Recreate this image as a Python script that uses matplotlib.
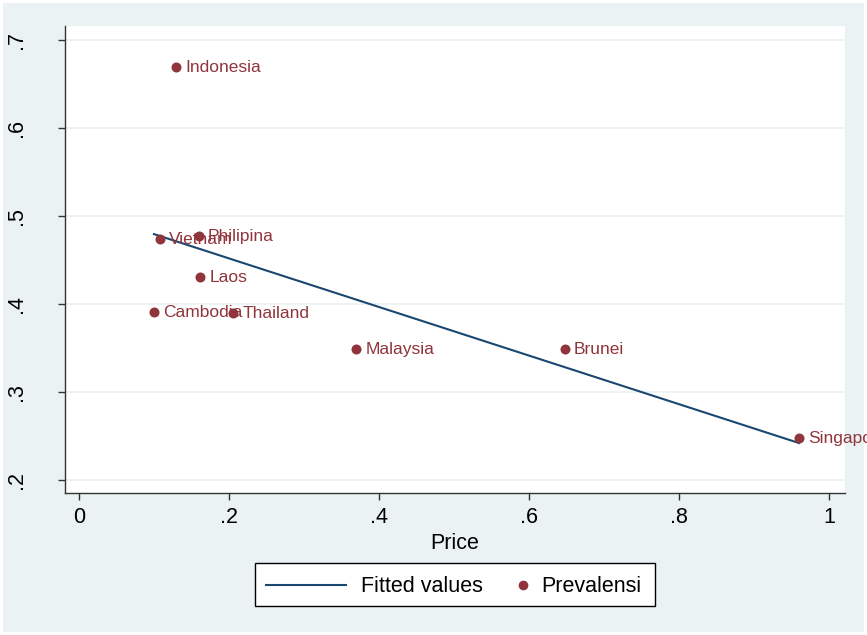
import numpy as np
import matplotlib
matplotlib.use("Agg")
import matplotlib.pyplot as plt
from matplotlib.patches import Rectangle
from matplotlib.lines import Line2D

plt.rcParams['font.family'] = ['Liberation Sans', 'DejaVu Sans']

countries = ["Indonesia", "Vietnam", "Philipina", "Laos", "Cambodia",
             "Thailand", "Malaysia", "Brunei", "Singapore"]
price = [0.130, 0.108, 0.160, 0.162, 0.100, 0.206, 0.370, 0.648, 0.960]
prevalensi = [0.669, 0.474, 0.477, 0.431, 0.391, 0.390, 0.349, 0.349, 0.248]
xticks = [0, 0.2, 0.4, 0.6, 0.8, 1.0]
xticklabels = ["0", ".2", ".4", ".6", ".8", "1"]
yticks = [0.2, 0.3, 0.4, 0.5, 0.6, 0.7]
yticklabels = [".2", ".3", ".4", ".5", ".6", ".7"]
legend_labels = ["Fitted values", "Prevalensi"]

BG = "#EAF2F3"
NAVY = "#1A476F"
MAROON = "#90353B"

W, H = 867, 635
fig = plt.figure(figsize=(W / 100, H / 100), dpi=100, facecolor="white")
fig.patches.append(Rectangle((3 / W, 3 / H), 1 - 6 / W, 1 - 6 / H,
                             transform=fig.transFigure, facecolor=BG,
                             edgecolor="none", zorder=-10))

ax = fig.add_axes([65 / W, 1 - 493 / H, (845 - 65) / W, (493 - 26) / H])
ax.set_facecolor("white")

x = np.array(price)
y = np.array(prevalensi)
b, a = np.polyfit(x, y, 1)
xs = np.array([x.min(), x.max()])
ax.plot(xs, a + b * xs, color=NAVY, lw=1.5, zorder=3)
ax.scatter(x, y, s=52, color=MAROON, zorder=4, linewidths=0)
for name, xi, yi in zip(countries, price, prevalensi):
    ax.annotate(name, (xi, yi), xytext=(6.5, -0.5), textcoords="offset points",
                va="center", ha="left", fontsize=12.5, color=MAROON,
                annotation_clip=False, zorder=5)

ax.set_xlim(-0.0186, 1.0213)
ax.set_ylim(0.1852, 0.7159)
ax.set_xticks(xticks)
ax.set_xticklabels(xticklabels)
ax.set_yticks(yticks)
ax.set_yticklabels(yticklabels, rotation=90, va="center")
ax.grid(axis="y", color=BG, lw=1.2)
ax.set_axisbelow(True)
for s in ["top", "right"]:
    ax.spines[s].set_visible(False)
for s in ["left", "bottom"]:
    ax.spines[s].set_color("#333333")
    ax.spines[s].set_linewidth(1.0)
ax.tick_params(axis="x", length=5, width=1, color="#333333", labelsize=15.5, pad=5)
ax.tick_params(axis="y", length=5, width=1, color="#333333", labelsize=15.5, pad=22)
ax.set_xlabel("Price", fontsize=15.5, labelpad=4)

# legend drawn in figure pixel coordinates (Stata-style key layout)
def fx(px):
    return px / W

def fy(py):
    return 1 - py / H

fig.patches.append(Rectangle((fx(255), fy(606)), fx(655) - fx(255), fy(563) - fy(606),
                             transform=fig.transFigure, facecolor="white",
                             edgecolor="black", lw=1.0, zorder=5))
fig.lines.append(Line2D([fx(266), fx(346)], [fy(585), fy(585)],
                        transform=fig.transFigure, color=NAVY, lw=1.5, zorder=6))
fig.text(fx(361), fy(586), legend_labels[0], fontsize=15.5, va="center",
         ha="left", zorder=6)
fig.lines.append(Line2D([fx(523)], [fy(585)], transform=fig.transFigure,
                        color=MAROON, marker="o", ls="none", markersize=7,
                        markeredgewidth=0, zorder=6))
fig.text(fx(541), fy(586), legend_labels[1], fontsize=15.5, va="center",
         ha="left", zorder=6)

fig.savefig("out.png", dpi=100, facecolor=fig.get_facecolor())
